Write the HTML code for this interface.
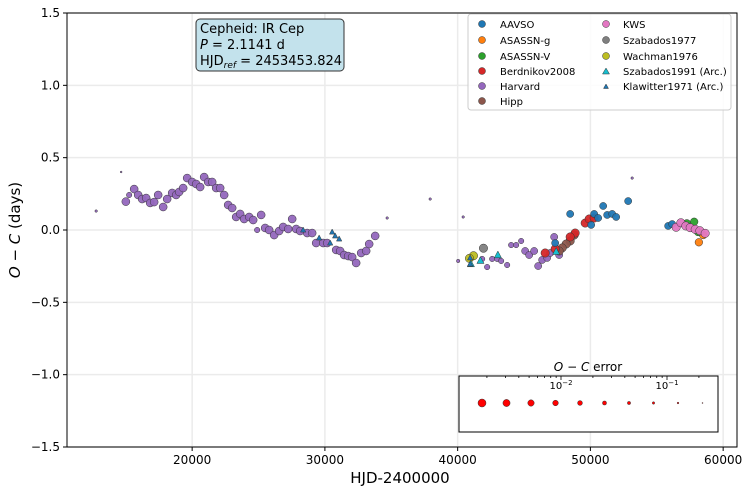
<!DOCTYPE html>
<html><head><meta charset="utf-8">
<style>
body{margin:0;background:#fff;font-family:"Liberation Sans","DejaVu Sans",sans-serif;}
svg text{font-family:"DejaVu Sans","Liberation Sans",sans-serif;}
</style></head>
<body>
<svg id="chart" width="748" height="493" viewBox="0 0 748 493" xmlns="http://www.w3.org/2000/svg"></svg>
<script>
const xTicks=[20000,30000,40000,50000,60000];
const yTicks=[-1.5,-1.0,-0.5,0.0,0.5,1.0,1.5];
const seriesNames=["AAVSO","ASASSN-g","ASASSN-V","Berdnikov2008","Harvard","Hipp","KWS","Szabados1977","Wachman1976","Szabados1991 (Arc.)","Klawitter1971 (Arc.)"];
const seriesColors=["#1f77b4","#ff7f0e","#2ca02c","#d62728","#9467bd","#8c564b","#e377c2","#7f7f7f","#bcbd22","#17becf","#1f77b4"];
const aavsoX=[48475,50961,52844,50283,50584,51263,51639,51940,50057,47345,55857,56158];
const aavsoY=[0.111,0.166,0.200,0.111,0.083,0.104,0.111,0.090,0.035,-0.090,0.028,0.041];
const asasgX=[58170,58496];
const asasgY=[-0.085,-0.035];
const asasvX=[57265,57817,58116];
const asasvY=[0.046,0.057,-0.014];
const berdX=[49606,49907,50283,48852,48475,47345,46592];
const berdY=[0.048,0.076,0.083,-0.021,-0.048,-0.131,-0.159];
const harvX=[15006,15631,15255,15933,16234,16535,16837,17138,17439,17816,18117,18494,18795,19021,19322,19624,20000,20301,20603,20904,21206,21507,21808,22110,22411,22712,23014,23315,23616,23918,24294,24596,25198,24897,25500,25801,26178,26554,26856,27233,27534,27835,28136,28664,29040,29341,29869,30170,30848,31149,31450,31752,32053,32354,32731,33108,33334,33786,
47270,45085,45386,45763,46366,46743,46065,46969,47646,44030,44407,44784,42599,42976,43277,43729,42222,41846,40038,34690,37930,40416,53146,14652,12769];
const harvY=[0.196,0.283,0.242,0.242,0.214,0.221,0.187,0.193,0.242,0.159,0.214,0.256,0.242,0.263,0.290,0.359,0.332,0.318,0.297,0.366,0.332,0.332,0.290,0.290,0.242,0.173,0.152,0.090,0.111,0.076,0.090,0.069,0.104,0.0,0.014,0.0,-0.035,-0.007,0.021,0.007,0.076,0.007,-0.007,-0.021,-0.021,-0.090,-0.090,-0.090,-0.138,-0.145,-0.173,-0.180,-0.187,-0.228,-0.159,-0.145,-0.097,-0.041,
-0.048,-0.145,-0.173,-0.145,-0.207,-0.193,-0.249,-0.159,-0.173,-0.104,-0.104,-0.076,-0.200,-0.200,-0.214,-0.242,-0.256,-0.200,-0.214,0.083,0.214,0.090,0.359,0.401,0.131];
const harvErr=[0.005,0.005,0.02,0.005,0.005,0.005,0.005,0.005,0.005,0.005,0.005,0.005,0.005,0.005,0.005,0.005,0.005,0.005,0.005,0.005,0.005,0.005,0.005,0.005,0.005,0.005,0.005,0.005,0.005,0.005,0.005,0.005,0.005,0.02,0.005,0.005,0.005,0.005,0.005,0.005,0.005,0.005,0.005,0.005,0.005,0.005,0.005,0.005,0.005,0.005,0.005,0.005,0.005,0.005,0.005,0.005,0.005,0.005,
0.008,0.008,0.008,0.008,0.008,0.008,0.008,0.008,0.008,0.02,0.02,0.02,0.02,0.02,0.02,0.02,0.02,0.02,0.06,0.1,0.1,0.1,0.1,0.15,0.1];
const hippX=[48777,48475,48174,47873,47646];
const hippY=[-0.035,-0.076,-0.097,-0.124,-0.145];
const kwsX=[56460,56815,57190,57515,57892,58245,58645];
const kwsY=[0.019,0.050,0.028,0.016,0.005,-0.005,-0.023];
const sz77X=[41944];
const sz77Y=[-0.126];
const wachX=[41191,40890];
const wachY=[-0.178,-0.196];
const sz91X=[43029,41718,40995,47420];
const sz91Y=[-0.173,-0.212,-0.235,-0.150];
const klawX=[28362,29567,30396,30547,30773,31074,40942,40942];
const klawY=[0,-0.055,-0.090,-0.014,-0.041,-0.062,-0.193,-0.235];
const errLegendVals=[0.002,0.0035,0.006,0.01,0.017,0.03,0.05,0.085,0.14,0.24];

const NS="http://www.w3.org/2000/svg";
const svg=document.getElementById('chart');
const L=67,R=737,T=13,B=447;
const xMin=10573,xMax=61043,yMin=-1.5,yMax=1.5;
function sx(v){return L+(v-xMin)/(xMax-xMin)*(R-L);}
function sy(v){return B-(v-yMin)/(yMax-yMin)*(B-T);}
function rad(e){return Math.max(0.5,4-Math.log10(e/0.005)*2.1);}
function mk(tag,at,parent){const e=document.createElementNS(NS,tag);for(const k in at)e.setAttribute(k,at[k]);(parent||svg).appendChild(e);return e;}

// grid
xTicks.forEach(t=>{const l=mk('line',{x1:sx(t),x2:sx(t),y1:T,y2:B,stroke:'#ebebeb','stroke-width':1.5});

});
yTicks.forEach(t=>{const l=mk('line',{x1:L,x2:R,y1:sy(t),y2:sy(t),stroke:'#ebebeb','stroke-width':1.5});

});

const pts=mk('g',{});


function circles(xs,ys,color,name,errs,defErr){
  xs.forEach((x,i)=>{const e=errs?errs[i]:defErr;
    const c=mk('circle',{cx:sx(x),cy:sy(ys[i]),r:rad(e),fill:color,stroke:'#333','stroke-width':0.5,'fill-opacity':0.95},pts);
    
    });
}
function tris(xs,ys,color,name,s){
  xs.forEach((x,i)=>{const cx=sx(x),cy=sy(ys[i]);
    const p=mk('polygon',{points:`${cx},${cy-s} ${cx-s*0.9},${cy+s*0.7} ${cx+s*0.9},${cy+s*0.7}`,fill:color,stroke:'#333','stroke-width':0.5},pts);
    
    });
}
circles(harvX,harvY,seriesColors[4],'harvard',harvErr);
circles(hippX,hippY,seriesColors[5],'hipp',null,0.004);
circles(berdX,berdY,seriesColors[3],'berdnikov2008',null,0.004);
circles(aavsoX,aavsoY,seriesColors[0],'aavso',null,0.008);
circles(asasgX,asasgY,seriesColors[1],'asassn-g',null,0.006);
circles(asasvX,asasvY,seriesColors[2],'asassn-v',null,0.006);
circles(kwsX,kwsY,seriesColors[6],'kws',null,0.004);
circles(sz77X,sz77Y,seriesColors[7],'szabados1977',null,0.004);
circles(wachX,wachY,seriesColors[8],'wachman1976',null,0.004);
tris(sz91X,sz91Y,seriesColors[9],'szabados1991',4);
tris(klawX,klawY,seriesColors[10],'klawitter1971',3);

// frame
const fr=mk('rect',{x:L,y:T,width:R-L,height:B-T,fill:'none',stroke:'#000','stroke-width':1});


xTicks.forEach(t=>{mk('line',{x1:sx(t),x2:sx(t),y1:B,y2:B+4,stroke:'#000'});
const tx=mk('text',{x:sx(t),y:B+17,'font-size':12,'text-anchor':'middle'});tx.textContent=t;

});
yTicks.forEach(t=>{mk('line',{x1:L-4,x2:L,y1:sy(t),y2:sy(t),stroke:'#000'});
const tx=mk('text',{x:L-7,y:sy(t)+4,'font-size':12,'text-anchor':'end'});tx.textContent=(t<0?'\u22121':'')+'';tx.textContent=(t<0?'\u2212':'')+Math.abs(t).toFixed(1);

});
</script>
<svg width="748" height="493" style="position:absolute;left:0;top:0" xmlns="http://www.w3.org/2000/svg">
<text x="400" y="483" font-size="15" text-anchor="middle" font-family="DejaVu Sans, sans-serif">HJD-2400000</text>
<text transform="translate(20,230) rotate(-90)" font-size="15" text-anchor="middle" font-family="DejaVu Sans, sans-serif"><tspan font-style="italic">O</tspan> − <tspan font-style="italic">C</tspan> (days)</text>
<g>
<rect x="196" y="19" width="148" height="52" rx="4" fill="#c3e2ec" stroke="#333" stroke-width="1"/>
<text x="200" y="33" font-size="13" font-family="DejaVu Sans, sans-serif">Cepheid: IR Cep</text>
<text x="200" y="49" font-size="13" font-family="DejaVu Sans, sans-serif"><tspan font-style="italic">P</tspan> = 2.1141 d</text>
<text x="200" y="65" font-size="13" font-family="DejaVu Sans, sans-serif">HJD<tspan font-size="9" dy="3" font-style="italic">ref</tspan><tspan dy="-3"> = 2453453.824</tspan></text>
</g>
<g font-size="10" font-family="DejaVu Sans, sans-serif">
<rect x="468" y="14" width="263" height="96" rx="3" fill="#fff" fill-opacity="0.85" stroke="#ccc"/>
<circle cx="482" cy="24" r="3.5" fill="#1f77b4" stroke="#333" stroke-width="0.5"/><text x="500" y="28">AAVSO</text>
<circle cx="482" cy="40" r="3.5" fill="#ff7f0e" stroke="#333" stroke-width="0.5"/><text x="500" y="44">ASASSN-g</text>
<circle cx="482" cy="56" r="3.5" fill="#2ca02c" stroke="#333" stroke-width="0.5"/><text x="500" y="60">ASASSN-V</text>
<circle cx="482" cy="71" r="3.5" fill="#d62728" stroke="#333" stroke-width="0.5"/><text x="500" y="75">Berdnikov2008</text>
<circle cx="482" cy="86" r="3.5" fill="#9467bd" stroke="#333" stroke-width="0.5"/><text x="500" y="90">Harvard</text>
<circle cx="482" cy="101" r="3.5" fill="#8c564b" stroke="#333" stroke-width="0.5"/><text x="500" y="105">Hipp</text>
<circle cx="606" cy="24" r="3.5" fill="#e377c2" stroke="#333" stroke-width="0.5"/><text x="623" y="28">KWS</text>
<circle cx="606" cy="40" r="3.5" fill="#7f7f7f" stroke="#333" stroke-width="0.5"/><text x="623" y="44">Szabados1977</text>
<circle cx="606" cy="56" r="3.5" fill="#bcbd22" stroke="#333" stroke-width="0.5"/><text x="623" y="60">Wachman1976</text>
<polygon points="606,68 602.5,74 609.5,74" fill="#17becf" stroke="#333" stroke-width="0.5"/><text x="623" y="75">Szabados1991 (Arc.)</text>
<polygon points="606,84 603.5,88.5 608.5,88.5" fill="#1f77b4" stroke="#333" stroke-width="0.5"/><text x="623" y="90">Klawitter1971 (Arc.)</text>
</g>
<g font-family="DejaVu Sans, sans-serif">
<text x="588" y="371" font-size="12" text-anchor="middle"><tspan font-style="italic">O</tspan> − <tspan font-style="italic">C</tspan> error</text>
<rect x="459" y="376" width="259" height="56" fill="#fff" stroke="#000"/>
<g id="errticks" stroke="#000" stroke-width="0.8"></g>
<text x="561" y="389" font-size="10" text-anchor="middle">10<tspan font-size="7" dy="-4">−2</tspan></text>
<text x="667" y="389" font-size="10" text-anchor="middle">10<tspan font-size="7" dy="-4">−1</tspan></text>
<g id="errdots"></g>
</g>
</svg>
<script>
(function(){
const NS="http://www.w3.org/2000/svg";
const g=document.getElementById('errticks');
const lx=v=>561+Math.log10(v/0.01)*106;
[0.002,0.003,0.004,0.005,0.006,0.007,0.008,0.009,0.01,0.02,0.03,0.04,0.05,0.06,0.07,0.08,0.09,0.1,0.2].forEach(v=>{
 const x=lx(v);if(x<459||x>718)return;const big=(v===0.01||v===0.1);
 const l=document.createElementNS(NS,'line');l.setAttribute('x1',x);l.setAttribute('x2',x);l.setAttribute('y1',376);l.setAttribute('y2',376+(big?4:2));g.appendChild(l);});
const d=document.getElementById('errdots');
errLegendVals.forEach((v,i)=>{const c=document.createElementNS(NS,'circle');
 c.setAttribute('cx',482+i*24.5);c.setAttribute('cy',403);c.setAttribute('r',Math.max(0.5,4-Math.log10(v/0.002)*1.7));
 c.setAttribute('fill','#ff0000');c.setAttribute('stroke','#333');c.setAttribute('stroke-width',0.5);
 
 
 d.appendChild(c);});
})();
</script>
</body></html>
